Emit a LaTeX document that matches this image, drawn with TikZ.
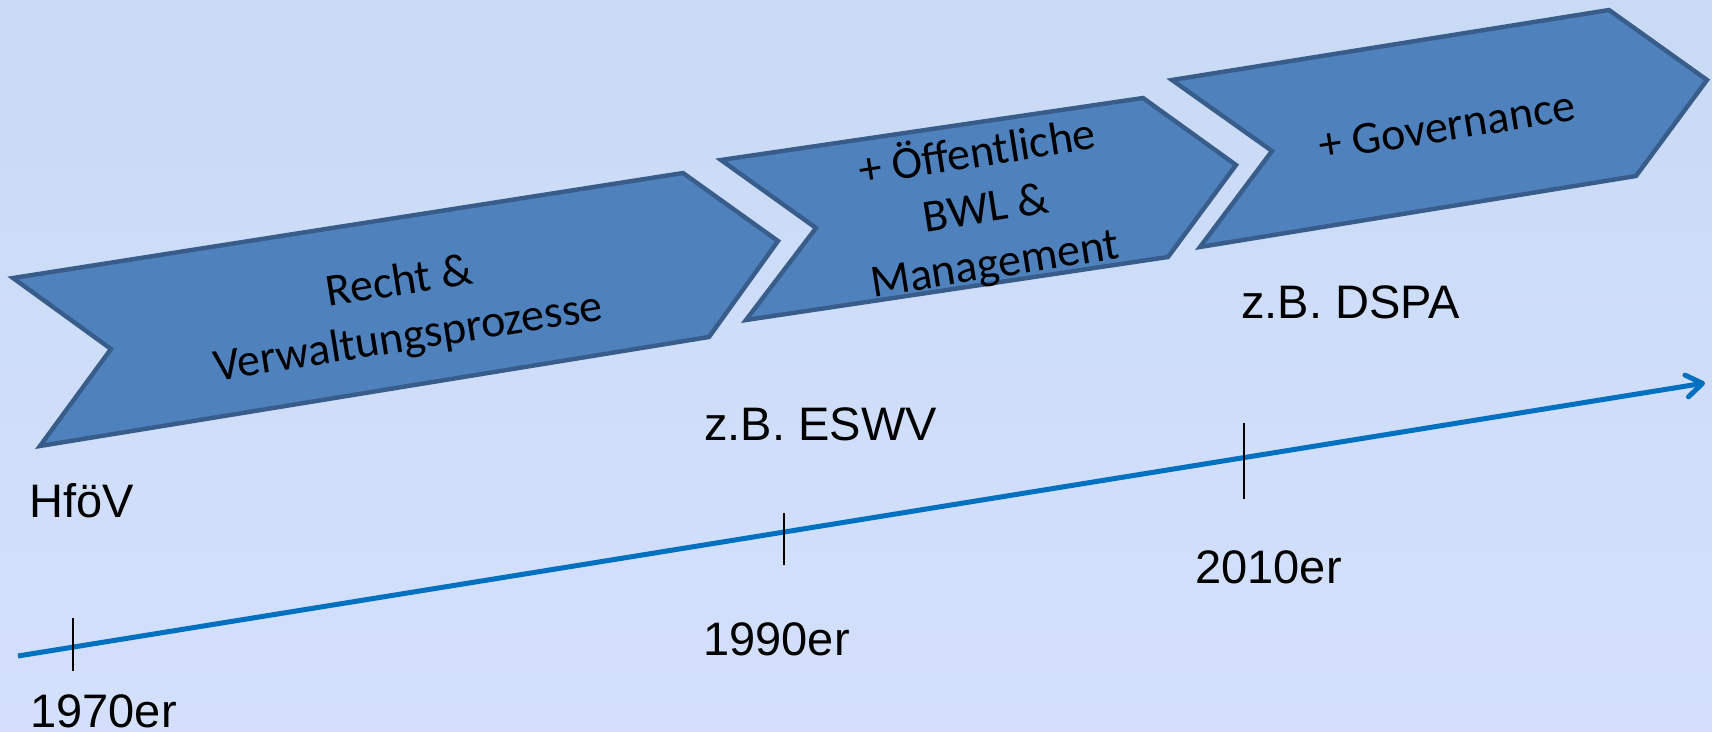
\documentclass[tikz,border=0pt]{standalone}
\usepackage{fontspec}
\usetikzlibrary{arrows.meta}
\newfontfamily\labelfont{Liberation Sans}
\newfontfamily\boxfont{Carlito}
\definecolor{bgtop}{HTML}{C9DAF5}
\definecolor{bgbottom}{HTML}{D4E0FB}
\definecolor{chevfill}{HTML}{4F81BD}
\definecolor{chevline}{HTML}{385D8A}
\definecolor{timeblue}{HTML}{0070C0}
\tikzset{
  chevron/.style={fill=chevfill, draw=chevline, line width=2.2pt, line join=miter},
  phase/.style={font=\boxfont\fontsize{23}{28}\selectfont, align=center, rotate=9, inner sep=0pt},
  yearlabel/.style={font=\labelfont\fontsize{23.5}{28}\selectfont, anchor=base west, inner sep=0pt},
  timeline/.style={draw=timeblue, line width=2.5pt, -{Straight Barb[length=8pt,width=11pt,round]}},
  tickmark/.style={draw=black, line width=1pt}
}
\begin{document}
\begin{tikzpicture}[x=0.5pt,y=-0.5pt]
  % canvas and background
  \useasboundingbox (0,0) rectangle (1712,732);
  \shade[top color=bgtop, bottom color=bgbottom] (0,0) rectangle (1712,732);

  % phase chevrons
  \draw[chevron] (13,278) -- (683,173) -- (778,241) -- (709,337) -- (40,446) -- (111,349) -- cycle;
  \draw[chevron] (721,160) -- (1143,98) -- (1236,165) -- (1168,257) -- (746,320) -- (816,228) -- cycle;
  \draw[chevron] (1172,80) -- (1609,10) -- (1707,80) -- (1636,176) -- (1200,247) -- (1272,151) -- cycle;

  \node[phase] (p1) at (404,311) {Recht \&\\Verwaltungsprozesse};
  \node[phase] (p2) at (986,208) {+ Öffentliche\\BWL \&\\Management};
  \node[phase] (p3) at (1447,126) {+ Governance};

  % time axis
  \coordinate (t0) at (18,656);
  \coordinate (t1) at (1705,383);
  \draw[timeline] (t0) -- (t1);

  \coordinate (k1a) at (73,618);   \coordinate (k1b) at (73,671);
  \coordinate (k2a) at (784,513);  \coordinate (k2b) at (784,565);
  \coordinate (k3a) at (1244,423); \coordinate (k3b) at (1244,499);
  \draw[tickmark] (k1a) -- (k1b);
  \draw[tickmark] (k2a) -- (k2b);
  \draw[tickmark] (k3a) -- (k3b);

  % decades and examples
  \node[yearlabel] (y1970) at (30,727) {1970er};
  \node[yearlabel] (y1990) at (703,655) {1990er};
  \node[yearlabel] (y2010) at (1195,583) {2010er};
  \node[yearlabel] (ex1) at (29,517) {HföV};
  \node[yearlabel] (ex2) at (704,440) {z.B. ESWV};
  \node[yearlabel] (ex3) at (1241,319) {z.B. DSPA};
\end{tikzpicture}
\end{document}
